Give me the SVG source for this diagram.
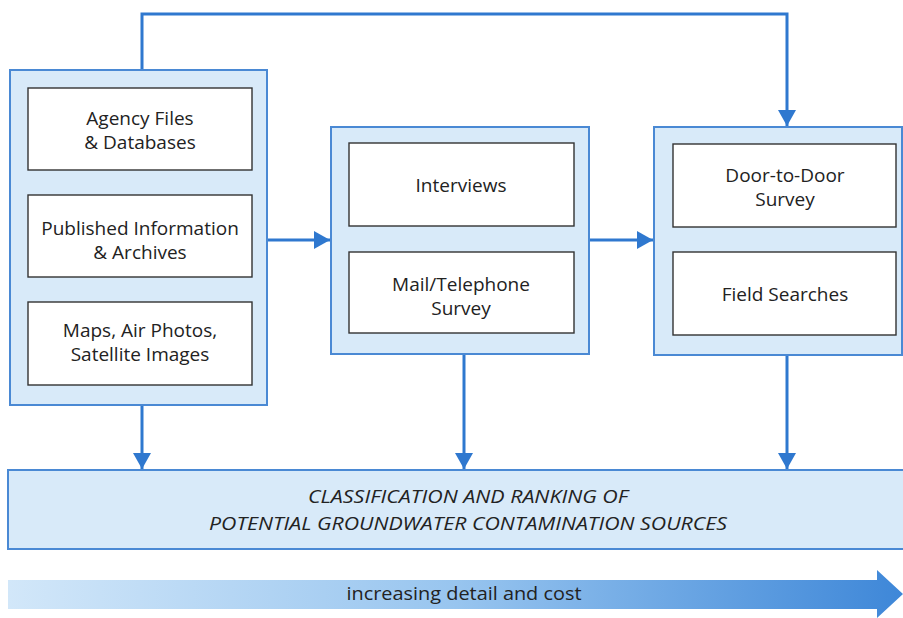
<svg xmlns="http://www.w3.org/2000/svg" width="903" height="618" viewBox="0 0 903 618">
<defs>
<style>
.outer{fill:#d8eaf9;stroke:#4a89d4;stroke-width:2}
.inner{fill:#ffffff;stroke:#333333;stroke-width:1.4}
.t{font-family:"Open Sans","Liberation Sans",sans-serif;font-size:19px;fill:#222;text-anchor:middle}
.ti{font-family:"Open Sans","Liberation Sans",sans-serif;font-size:19px;font-style:italic;fill:#222;text-anchor:middle}
.con{fill:none;stroke:#2f78cf;stroke-width:3}
.head{fill:#2f78cf}
</style>
<linearGradient id="grad" x1="0" y1="0" x2="1" y2="0">
<stop offset="0" stop-color="#d2e7f9"/>
<stop offset="0.5" stop-color="#98c5ef"/>
<stop offset="1" stop-color="#3e87d8"/>
</linearGradient>
<marker id="arr" viewBox="0 0 16 18" refX="16" refY="9" markerWidth="16" markerHeight="18" markerUnits="userSpaceOnUse" orient="auto">
<path d="M0,0 L16,9 L0,18 Z" class="head"/>
</marker>
</defs>
<rect width="903" height="618" fill="#ffffff"/>

<g id="connectors">
<path class="con" d="M142,70 V14 H787 V126" marker-end="url(#arr)"/>
<path class="con" d="M267,240 H330" marker-end="url(#arr)"/>
<path class="con" d="M589,240 H653" marker-end="url(#arr)"/>
<path class="con" d="M142,405 V469" marker-end="url(#arr)"/>
<path class="con" d="M464,354 V469" marker-end="url(#arr)"/>
<path class="con" d="M787,355 V469" marker-end="url(#arr)"/>
</g>

<g id="group-records">
<rect class="outer" x="10" y="70" width="257" height="335"/>
<g id="agency-files">
<rect class="inner" x="28" y="88" width="224" height="82"/>
<text class="t" x="140" y="125">Agency Files</text>
<text class="t" x="140" y="149">&amp; Databases</text>
</g>
<g id="published-info">
<rect class="inner" x="28" y="195" width="224" height="82"/>
<text class="t" x="140" y="235">Published Information</text>
<text class="t" x="140" y="259">&amp; Archives</text>
</g>
<g id="maps">
<rect class="inner" x="28" y="302" width="224" height="83"/>
<text class="t" x="140" y="337">Maps, Air Photos,</text>
<text class="t" x="140" y="361">Satellite Images</text>
</g>
</g>

<g id="group-contacts">
<rect class="outer" x="331" y="127" width="258" height="227"/>
<g id="interviews">
<rect class="inner" x="349" y="143" width="225" height="83"/>
<text class="t" x="461" y="192">Interviews</text>
</g>
<g id="mail-survey">
<rect class="inner" x="349" y="252" width="225" height="81"/>
<text class="t" x="461" y="291">Mail/Telephone</text>
<text class="t" x="461" y="315">Survey</text>
</g>
</g>

<g id="group-field">
<rect class="outer" x="654" y="127" width="248" height="228"/>
<g id="door-to-door">
<rect class="inner" x="673" y="144" width="223" height="83"/>
<text class="t" x="785" y="182">Door-to-Door</text>
<text class="t" x="785" y="206">Survey</text>
</g>
<g id="field-searches">
<rect class="inner" x="673" y="252" width="223" height="83"/>
<text class="t" x="785" y="301">Field Searches</text>
</g>
</g>

<g id="classification">
<rect class="outer" x="8" y="470" width="900" height="79"/>
<text class="ti" x="468" y="503" textLength="320" lengthAdjust="spacingAndGlyphs">CLASSIFICATION AND RANKING OF</text>
<text class="ti" x="468" y="530" textLength="518" lengthAdjust="spacingAndGlyphs">POTENTIAL GROUNDWATER CONTAMINATION SOURCES</text>
</g>

<g id="cost-arrow">
<path d="M8,580 H877 V570 L903,594 L877,618 V609 H8 Z" fill="url(#grad)"/>
<text class="t" x="464" y="600" textLength="235" lengthAdjust="spacingAndGlyphs">increasing detail and cost</text>
</g>
</svg>
